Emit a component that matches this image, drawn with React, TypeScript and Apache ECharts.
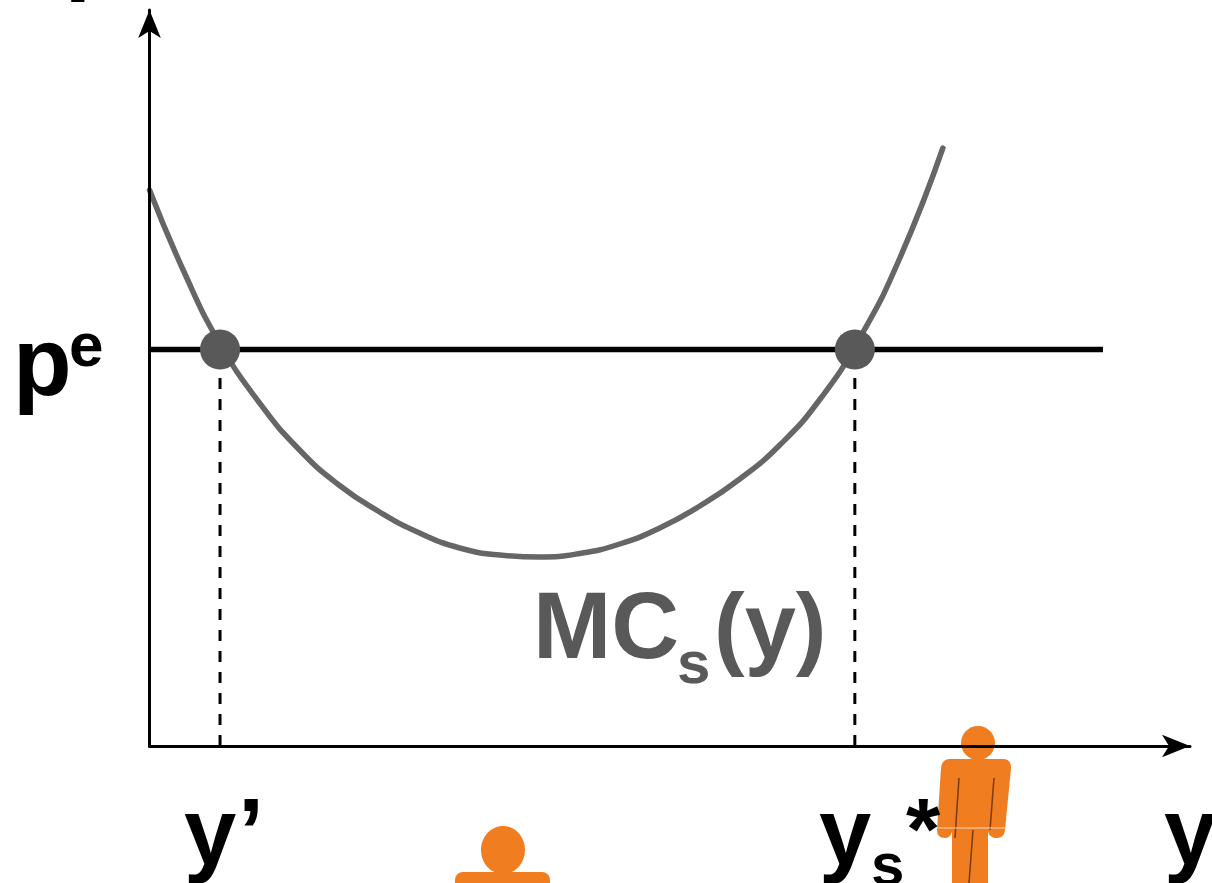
import React, { useEffect, useRef } from "react";
import * as echarts from "echarts";

const curveX = [0, 0.35, 0.7, 1.1, 1.5, 1.9, 2.3, 2.7, 3.1, 3.5, 3.9, 4.3, 4.7, 5.1, 5.5, 5.9, 6.3, 6.7, 7.1, 7.5, 7.93];
const curveY = [5.56, 4.73, 4.03, 3.43, 2.96, 2.605, 2.34, 2.13, 1.98, 1.91, 1.89, 1.925, 2.02, 2.18, 2.4, 2.67, 3.01, 3.465, 4.08, 4.88, 5.98];
const priceLevel = 3.965;
const priceEndX = 9.53;
const yPrime = 0.705;
const yStar = 7.05;
const axisMaxX = 10.4;
const axisMaxY = 7.36;

const FONT = "'Liberation Sans', Arial, sans-serif";
const ORANGE = "#f07d20";
const GREY = "#666666";
const DOT = "#595959";

echarts.graphic.registerShape(
  "personBody",
  echarts.graphic.extendPath(
    "M950 759 L1003 759 Q1011 759 1011 768 L1005 830 Q1004 838 997 838 Q990 838 988 832 L988 883 L952 883 L952 832 Q950 838 945 838 Q937 838 937 830 L941 768 Q942 759 950 759 Z",
    {},
  ),
);

// baseline is converted to the top of the text box
function bold(text: string, x: number, baseline: number, size: number, fill = "#000") {
  return {
    type: "text",
    x,
    y: baseline - 0.86 * size,
    z: 20,
    style: { text, fill, font: `bold ${size}px ${FONT}` },
  };
}

function seg(x1: number, y1: number, x2: number, y2: number, stroke: string, lineWidth: number) {
  return { type: "line", shape: { x1, y1, x2, y2 }, style: { stroke, lineWidth }, z: 2 };
}

export default function App() {
  const ref = useRef<HTMLDivElement>(null);
  useEffect(() => {
    document.body.style.margin = "0";
    const chart = echarts.init(ref.current!, undefined, { renderer: "svg" });
    const axisCommon = {
      type: "value",
      min: 0,
      z: 10,
      splitLine: { show: false },
      axisTick: { show: false },
      axisLabel: { show: false },
      axisLine: {
        show: true,
        onZero: false,
        symbol: ["none", "arrow"],
        symbolSize: [17, 28],
        lineStyle: { color: "#000", width: 3 },
      },
    };
    chart.setOption({
      animation: false,
      backgroundColor: "#fff",
      grid: { left: 149.5, top: 10, width: 1040.5, height: 736 },
      xAxis: { ...axisCommon, max: axisMaxX },
      yAxis: { ...axisCommon, max: axisMaxY },
      series: [
        {
          type: "line",
          data: [[0, priceLevel], [priceEndX, priceLevel]],
          symbol: "none",
          lineStyle: { color: "#000", width: 5.5 },
          z: 3,
        },
        {
          type: "line",
          data: [[yPrime, 0], [yPrime, priceLevel]],
          symbol: "none",
          lineStyle: { color: "#000", width: 3, type: [11, 10] },
          z: 3,
        },
        {
          type: "line",
          data: [[yStar, 0], [yStar, priceLevel]],
          symbol: "none",
          lineStyle: { color: "#000", width: 3, type: [11, 10] },
          z: 3,
        },
        {
          type: "line",
          smooth: 0.5,
          data: curveX.map((x, i) => [x, curveY[i]]),
          symbol: "none",
          lineStyle: { color: GREY, width: 5.5, cap: "round" },
          z: 4,
        },
        {
          type: "scatter",
          data: [[yPrime, priceLevel], [yStar, priceLevel]],
          symbolSize: 40,
          itemStyle: { color: DOT, opacity: 1 },
          z: 5,
        },
      ],
      graphic: [
        { type: "ellipse", shape: { cx: 978, cy: 743, rx: 17, ry: 17 }, style: { fill: ORANGE }, z: 1 },
        { type: "personBody", x: 0, y: 0, style: { fill: ORANGE }, z: 1 },
        seg(959, 778, 955, 838, "#7a3a08", 1.5),
        seg(994, 778, 990, 830, "#7a3a08", 1.5),
        seg(973, 830, 969, 883, "#7a3a08", 1.5),
        seg(937, 828, 1006, 828, "#f8d9bd", 1),
        { type: "ellipse", shape: { cx: 503, cy: 850, rx: 22, ry: 24 }, style: { fill: ORANGE }, z: 1 },
        { type: "rect", shape: { x: 455, y: 872, width: 95, height: 30, r: 8 }, style: { fill: ORANGE }, z: 1 },
        bold("p", 64.5, -17, 96),
        bold("p", 13, 396, 96),
        bold("e", 69, 367, 62),
        bold("y", 184, 865, 94),
        bold("’", 238, 865, 94),
        bold("y", 819, 865, 94),
        bold("s", 871, 886, 60),
        bold("*", 906, 860, 88),
        bold("y", 1164, 865, 94),
        bold("MC", 533, 659, 94, DOT),
        bold("s", 677, 684, 60, DOT),
        bold("(y)", 714, 659, 92, DOT),
      ],
    });
    return () => chart.dispose();
  }, []);
  return <div ref={ref} style={{ width: 1212, height: 883 }} />;
}
